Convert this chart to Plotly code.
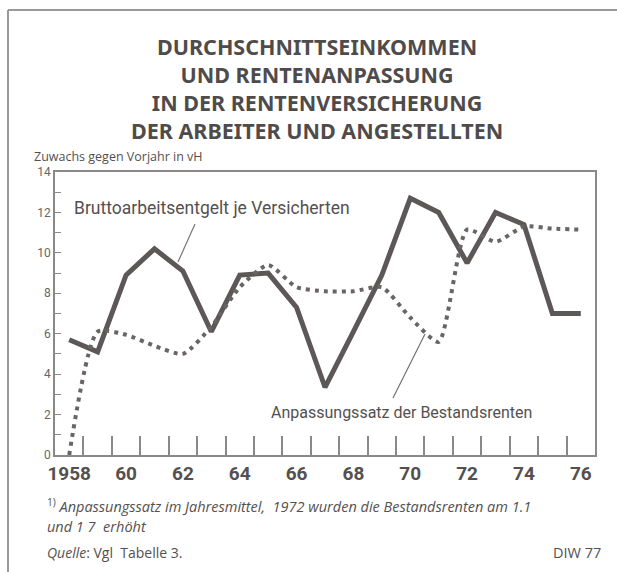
import plotly.graph_objects as go

# ---- data ----
years = list(range(1958, 1977))
brutto = [5.7, 5.1, 8.9, 10.2, 9.1, 6.1, 8.9, 9.0, 7.3, 3.35, 6.1, 8.9,
          12.7, 12.0, 9.5, 12.0, 11.4, 7.0, 7.0]
anpassung = [0.0, 6.1, 5.95, 5.4, 5.0, 6.35, 8.3, 9.4, 8.3, 8.1, 8.1, 8.3,
             6.8, 5.6, 11.15, 10.55, 11.3, 11.2, 11.15]
x_label_years = [1958, 1960, 1962, 1964, 1966, 1968, 1970, 1972, 1974, 1976]
x_labels = ["1958", "60", "62", "64", "66", "68", "70", "72", "74", "76"]
y_ticks = [0, 2, 4, 6, 8, 10, 12, 14]
year_bounds = [y + 0.5 for y in years[:-1]]

W, H = 617, 572
L, R, T, B = 55, 22, 172, 117
PW, PH = W - L - R, H - T - B

def px(x):
    return (x - L) / PW

def py(y):
    return (H - B - y) / PH

GRAY = "#5d5858"
AX = "#8c8888"
TXT = "#555050"
SANS = "Open Sans, Roboto, sans-serif"

fig = go.Figure()
fig.add_trace(go.Scatter(x=years, y=brutto, mode="lines",
                         line=dict(color=GRAY, width=5), showlegend=False))
fig.add_trace(go.Scatter(x=years, y=anpassung, mode="lines",
                         line=dict(color="#6a6464", width=4, dash="4px,5px",
                                   shape="spline", smoothing=0.6),
                         showlegend=False))

fig.update_layout(
    width=W, height=H, autosize=False,
    margin=dict(l=L, r=R, t=T, b=B),
    paper_bgcolor="white", plot_bgcolor="white",
    xaxis=dict(range=[1957.5, 1976.5], tickvals=x_label_years, ticktext=x_labels,
               ticks="", showgrid=False, zeroline=False,
               showline=True, mirror=True, linecolor=AX, linewidth=1.5,
               tickfont=dict(family="Roboto, sans-serif", size=19, color=TXT, weight="bold"),
               minor=dict(tickvals=year_bounds, ticks="inside", ticklen=19,
                          tickwidth=1.5, tickcolor=AX, showgrid=False)),
    yaxis=dict(range=[0, 14], tickvals=y_ticks, ticks="inside", ticklen=6,
               tickwidth=1.2, tickcolor=AX, showgrid=False, zeroline=False,
               showline=True, mirror=True, linecolor=AX, linewidth=1.5,
               tickfont=dict(family="Roboto, sans-serif", size=12, color="#666"),
               minor=dict(dtick=1, ticks="inside", ticklen=6, tickwidth=1.2,
                          tickcolor=AX, showgrid=False)),
)

title_lines = ["DURCHSCHNITTSEINKOMMEN", "UND RENTENANPASSUNG",
               "IN DER RENTENVERSICHERUNG", "DER ARBEITER UND ANGESTELLTEN"]
fig.add_annotation(text="<b>" + "<br>".join(title_lines) + "</b>",
                   xref="paper", yref="paper", x=px(317), y=py(88.5),
                   xanchor="center", yanchor="middle", align="center", showarrow=False,
                   font=dict(family="Noto Sans, sans-serif", size=21.5, color="#504b4b"))

fig.add_annotation(text="Zuwachs gegen Vorjahr in vH", xref="paper", yref="paper",
                   x=px(32), y=py(156), xanchor="left", yanchor="middle", showarrow=False,
                   font=dict(family=SANS, size=12.5, color=TXT))

fig.add_annotation(text="Bruttoarbeitsentgelt je Versicherten", xref="paper", yref="paper",
                   x=px(72), y=py(208), xanchor="left", yanchor="middle", showarrow=False,
                   font=dict(family="Roboto, sans-serif", size=17.5, color=TXT))
fig.add_annotation(text="Anpassungssatz der Bestandsrenten", xref="paper", yref="paper",
                   x=px(269), y=py(412), xanchor="left", yanchor="middle", showarrow=False,
                   font=dict(family="Roboto, sans-serif", size=16, color=TXT))

# leader lines
fig.add_shape(type="line", xref="paper", yref="paper", x0=px(195), y0=py(224),
              x1=px(178), y1=py(262), line=dict(color="#777", width=1.2))
fig.add_shape(type="line", xref="paper", yref="paper", x0=px(393), y0=py(398),
              x1=px(425), y1=py(334), line=dict(color="#777", width=1.2))

# footnotes
FN = dict(family=SANS, size=14.5, color=TXT)
fig.add_annotation(text="<sup>1)</sup> <i>Anpassungssatz im Jahresmittel,  1972 wurden die Bestandsrenten am 1.1</i>",
                   xref="paper", yref="paper", x=px(45), y=py(505), xanchor="left",
                   yanchor="middle", showarrow=False, font=FN)
fig.add_annotation(text="<i>und 1 7  erhöht</i>", xref="paper", yref="paper",
                   x=px(45), y=py(526), xanchor="left", yanchor="middle",
                   showarrow=False, font=FN)
fig.add_annotation(text="<i>Quelle</i>: Vgl  Tabelle 3.", xref="paper", yref="paper",
                   x=px(45), y=py(552), xanchor="left", yanchor="middle",
                   showarrow=False, font=dict(family=SANS, size=14, color=TXT))
fig.add_annotation(text="DIW 77", xref="paper", yref="paper",
                   x=px(603), y=py(552), xanchor="right", yanchor="middle",
                   showarrow=False, font=dict(family=SANS, size=14.5, color=TXT))

# outer frame
fig.add_shape(type="line", xref="paper", yref="paper", x0=px(8), y0=py(10),
              x1=px(617), y1=py(10), line=dict(color="#999", width=2))
fig.add_shape(type="line", xref="paper", yref="paper", x0=px(8), y0=py(10),
              x1=px(8), y1=py(572), line=dict(color="#999", width=2))

fig.write_html("out.html", config={"displayModeBar": False},
               post_script="document.body.style.margin='0';document.body.style.overflow='hidden';")
